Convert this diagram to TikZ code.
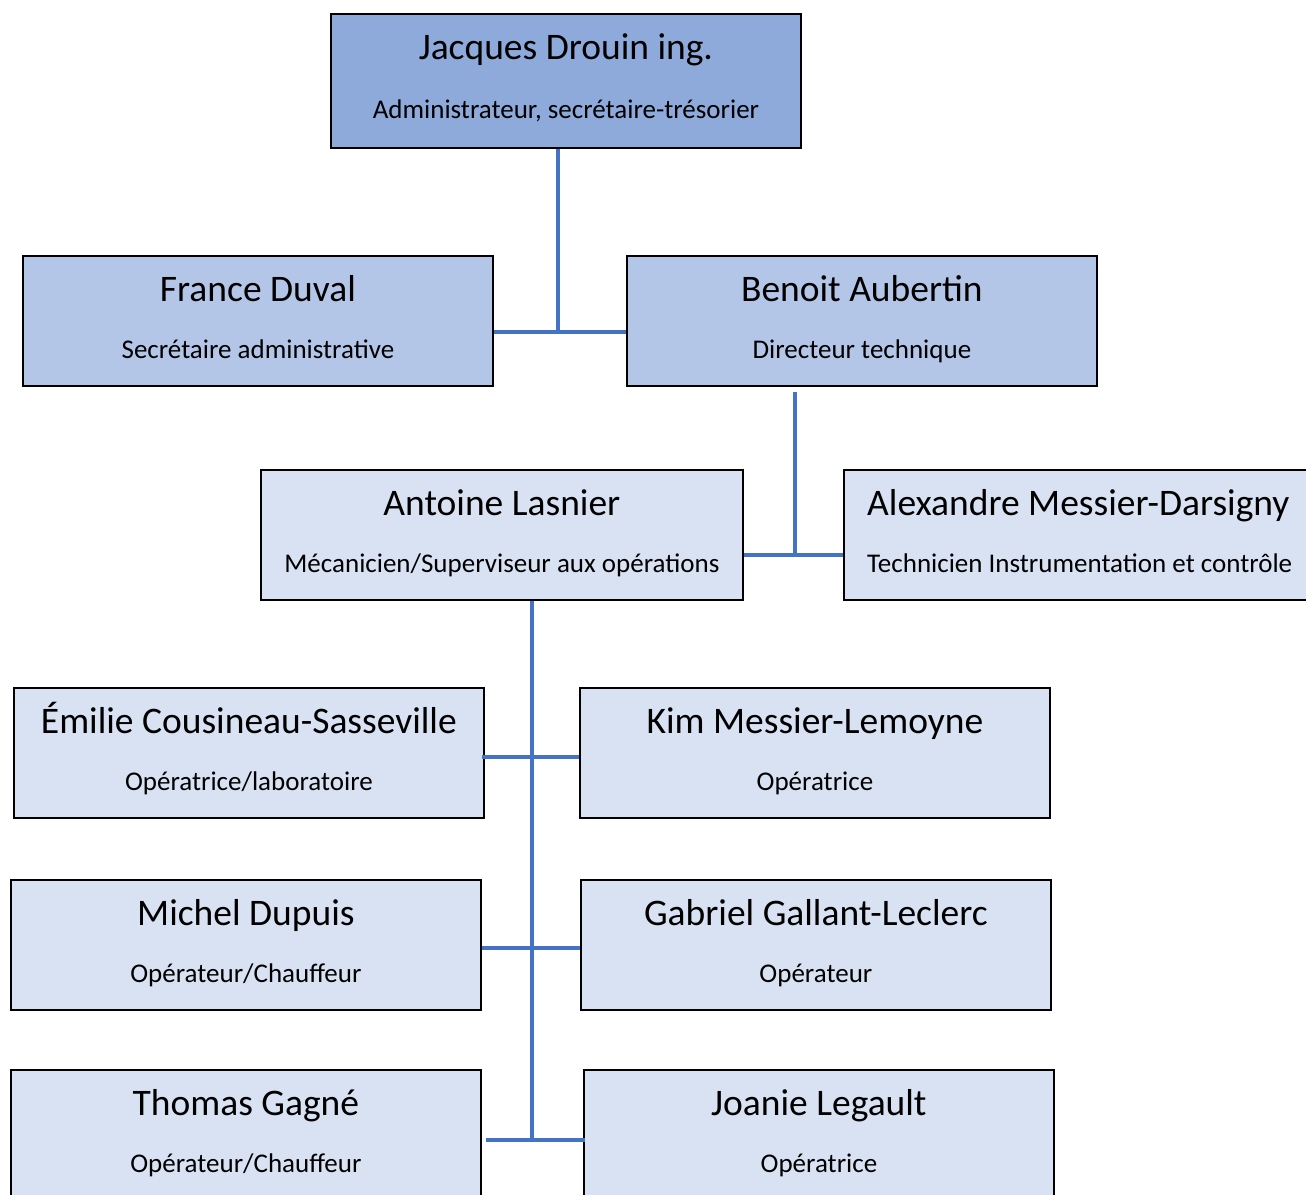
\documentclass[tikz,border=0pt]{standalone}
\usepackage{fontspec}
\setmainfont{Carlito}
\definecolor{cone}{HTML}{8EAADB}
\definecolor{ctwo}{HTML}{B4C6E7}
\definecolor{cthree}{HTML}{D9E2F3}
\definecolor{lnblue}{HTML}{4472C4}
\begin{document}
\begin{tikzpicture}[x=1pt,y=-1pt,
  box/.style={draw=black, line width=1.8pt, minimum width=470pt, minimum height=130pt, anchor=north west, inner sep=0pt},
  nm/.style={font=\fontsize{37.5}{44}\selectfont, inner sep=0pt, anchor=base},
  sb/.style={font=\fontsize{27}{32}\selectfont, inner sep=0pt, anchor=base},
  conn/.style={draw=lnblue, line width=3.3pt}]
\useasboundingbox (0,0) rectangle (1306,1194);
% boxes
\node[box, fill=cone, minimum height=134pt] (jd) at (330,13) {};
\node[box, fill=ctwo] (fd) at (22,255) {};
\node[box, fill=ctwo] (ba) at (626,255) {};
\node[box, fill=cthree, minimum width=482pt] (al) at (260,469) {};
\node[box, fill=cthree] (am) at (843,469) {};
\node[box, fill=cthree] (ec) at (13,687) {};
\node[box, fill=cthree] (km) at (579,687) {};
\node[box, fill=cthree] (md) at (10,879) {};
\node[box, fill=cthree] (gg) at (580,879) {};
\node[box, fill=cthree] (tg) at (10,1069) {};
\node[box, fill=cthree] (jl) at (583,1069) {};
% texts
\node[nm] (jdn) at ([yshift=-46pt]jd.north) {Jacques Drouin ing.};
\node[sb] (jds) at ([yshift=-105pt]jd.north) {Administrateur, secrétaire-trésorier};
\node[nm] (fdn) at ([yshift=-46pt]fd.north) {France Duval};
\node[sb] (fds) at ([yshift=-103pt]fd.north) {Secrétaire administrative};
\node[nm] (ban) at ([yshift=-46pt]ba.north) {Benoit Aubertin};
\node[sb] (bas) at ([yshift=-103pt]ba.north) {Directeur technique};
\node[nm] (aln) at ([yshift=-46pt]al.north) {Antoine Lasnier};
\node[sb] (als) at ([yshift=-103pt]al.north) {Mécanicien/Superviseur aux opérations};
\node[nm, anchor=base west] (amn) at ([yshift=-46pt,xshift=24pt]am.north west) {Alexandre Messier-Darsigny};
\node[sb, anchor=base west] (ams) at ([yshift=-103pt,xshift=24pt]am.north west) {Technicien Instrumentation et contrôle};
\node[nm] (ecn) at ([yshift=-46pt]ec.north) {Émilie Cousineau-Sasseville};
\node[sb] (ecs) at ([yshift=-103pt]ec.north) {Opératrice/laboratoire};
\node[nm] (kmn) at ([yshift=-46pt]km.north) {Kim Messier-Lemoyne};
\node[sb] (kms) at ([yshift=-103pt]km.north) {Opératrice};
\node[nm] (mdn) at ([yshift=-46pt]md.north) {Michel Dupuis};
\node[sb] (mds) at ([yshift=-103pt]md.north) {Opérateur/Chauffeur};
\node[nm] (ggn) at ([yshift=-46pt]gg.north) {Gabriel Gallant-Leclerc};
\node[sb] (ggs) at ([yshift=-103pt]gg.north) {Opérateur};
\node[nm] (tgn) at ([yshift=-46pt]tg.north) {Thomas Gagné};
\node[sb] (tgs) at ([yshift=-103pt]tg.north) {Opérateur/Chauffeur};
\node[nm] (jln) at ([yshift=-46pt]jl.north) {Joanie Legault};
\node[sb] (jls) at ([yshift=-103pt]jl.north) {Opératrice};
% connectors
\coordinate (j1) at (558,332);
\draw[conn] (jd.south -| j1) -- (j1);
\draw[conn] (fd.east |- j1) -- (ba.west |- j1);
\coordinate (b1) at (795,555);
\draw[conn] ([yshift=-5pt]ba.south -| b1) -- (b1);
\draw[conn] (al.east |- b1) -- (am.west |- b1);
\coordinate (v1) at (532,1140);
\draw[conn] (al.south -| v1) -- (v1);
\coordinate (h1) at (532,757);
\coordinate (h2) at (532,948);
\draw[conn] ([xshift=-3pt]ec.east |- h1) -- (km.west |- h1);
\draw[conn] (md.east |- h2) -- (gg.west |- h2);
\draw[conn] ([xshift=4pt]tg.east |- v1) -- ([xshift=2pt]jl.west |- v1);
\end{tikzpicture}
\end{document}
